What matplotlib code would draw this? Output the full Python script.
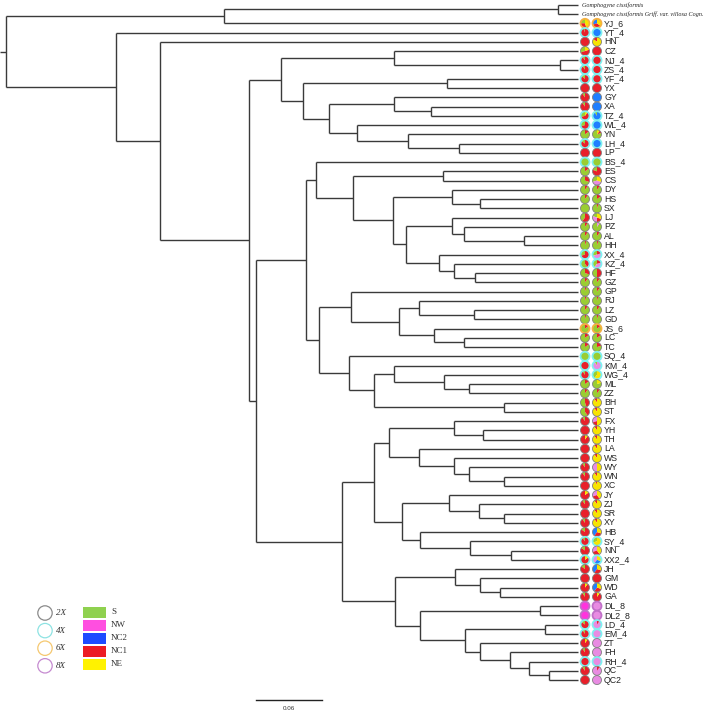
import matplotlib
matplotlib.use("Agg")
import matplotlib.pyplot as plt
from matplotlib import transforms
from matplotlib.patches import Wedge, Circle, Rectangle

# ---- data -----------------------------------------------------------------
# tree (newick, branch lengths in substitutions/site, tips drawn aligned)
E_CLADE = ("((CZ:0,(NJ_4:0,ZS_4:0):0.152):0.103,((YF_4:0,YX:0):0.132,"
           "((GY:0,(XA:0,TZ_4:0):0.034):0.059,(WL_4:0,(YN:0,(LH_4:0,LP:0):0.047):0.046):0.026)"
           ":0.024):0.020)")
S1_CLADE = ("(BS_4:0,((ES:0,CS:0):0.082,((DY:0,(HS:0,SX:0):0.026):0.054,"
            "((LJ:0,(PZ:0,(AL:0,HH:0):0.055):0.011):0.042,"
            "(XX_4:0,(KZ_4:0,(HF:0,GZ:0):0.019):0.014):0.030):0.012):0.036):0.034)")
S2_CLADE = ("((GP:0,((RJ:0,(LZ:0,GD:0):0.050):0.018,(JS_6:0,(LC:0,TC:0):0.027):0.032):0.044):0.029,"
            "(SQ_4:0,((KM_4:0,(WG_4:0,(ML:0,ZZ:0):0.023):0.046):0.018,(BH:0,ST:0):0.119):0.023):0.027)")
N_CLADE = ("((((FX:0,(YH:0,TH:0):0.027):0.059,(LA:0,(WS:0,(WY:0,(WN:0,XC:0):0.032):0.014):0.032):0.027):0.014,"
           "((JY:0,(ZJ:0,(SR:0,XY:0):0.023):0.027):0.043,(HB:0,(SY_4:0,(NN:0,XX2_4:0):0.037):0.046):0.016)"
           ":0.026):0.029,"
           "((JH:0,(GM:0,(WD:0,GA:0):0.018):0.023):0.055,((DL_8:0,DL2_8:0):0.110,"
           "((LD_4:0,EM_4:0):0.073,(ZT:0,(FH:0,(RH_4:0,(QC:0,QC2:0):0.018):0.018):0.027):0.014):0.041)"
           ":0.023):0.048)")
TREE = ("(((OG1:0,OG2:0):0.305,YJ_6:0):0.199,(YT_4:0,(HN:0,(%s:0.029,((%s:0.009,%s:0.012):0.046,%s:0.079):0.006)"
        ":0.081):0.041):0.100);" % (E_CLADE, S1_CLADE, S2_CLADE, N_CLADE))

OUTGROUPS = {"OG1": "Gomphogyne cissiformis",
             "OG2": "Gomphogyne cissiformis Griff. var. villosa Cogn."}

TIPS = ["YJ_6", "YT_4", "HN", "CZ", "NJ_4", "ZS_4", "YF_4", "YX", "GY", "XA", "TZ_4", "WL_4",
        "YN", "LH_4", "LP", "BS_4", "ES", "CS", "DY", "HS", "SX", "LJ", "PZ", "AL", "HH", "XX_4",
        "KZ_4", "HF", "GZ", "GP", "RJ", "LZ", "GD", "JS_6", "LC", "TC", "SQ_4", "KM_4", "WG_4",
        "ML", "ZZ", "BH", "ST", "FX", "YH", "TH", "LA", "WS", "WY", "WN", "XC", "JY", "ZJ", "SR",
        "XY", "HB", "SY_4", "NN", "XX2_4", "JH", "GM", "WD", "GA", "DL_8", "DL2_8", "LD_4",
        "EM_4", "ZT", "FH", "RH_4", "QC", "QC2"]
PLOIDY = [6, 4, 2, 2, 4, 4, 4, 2, 2, 2, 4, 4, 2, 4, 2, 4, 2, 2, 2, 2, 2, 2, 2, 2, 2, 4,
          4, 2, 2, 2, 2, 2, 2, 6, 2, 2, 4, 4, 4, 2, 2, 2, 2, 2, 2, 2, 2, 2, 2, 2, 2, 2, 2, 2,
          2, 2, 4, 2, 4, 2, 2, 2, 2, 8, 8, 4, 4, 2, 2, 4, 2, 2]

GROUPS = ["S", "NW", "NC2", "NC1", "NE"]
# membership (S, NW, NC2, NC1, NE)
LEFT = [(.25, 0, 0, .3, .45), (.05, 0, 0, .95, 0), (0, 0, 0, 1, 0), (.3, 0, 0, .5, .2),
        (.1, 0, 0, .9, 0), (.1, 0, 0, .9, 0), (.15, 0, 0, .85, 0), (0, 0, 0, 1, 0),
        (.1, 0, 0, .9, 0), (.1, 0, 0, .9, 0), (.3, 0, 0, .6, .1), (.3, 0, 0, .7, 0),
        (.85, 0, 0, .15, 0), (.15, 0, 0, .85, 0), (0, 0, 0, 1, 0), (1, 0, 0, 0, 0),
        (.85, 0, 0, .15, 0), (.7, 0, 0, .3, 0), (.9, 0, 0, .1, 0), (.9, 0, 0, .1, 0),
        (1, 0, 0, 0, 0), (.4, 0, 0, .6, 0), (.9, 0, 0, .1, 0), (.9, 0, 0, .1, 0),
        (.95, 0, 0, .05, 0), (.3, 0, 0, .7, 0), (.6, 0, 0, .4, 0), (.7, 0, 0, .3, 0),
        (.9, 0, 0, .1, 0), (.95, 0, 0, .05, 0), (.95, 0, 0, .05, 0), (.9, 0, 0, .1, 0),
        (.95, 0, 0, .05, 0), (.85, 0, 0, .15, 0), (.85, 0, 0, .15, 0), (.85, 0, 0, .15, 0),
        (1, 0, 0, 0, 0), (0, 0, 0, 1, 0), (.1, 0, 0, .9, 0), (.85, 0, 0, .15, 0),
        (.9, 0, 0, .1, 0), (.55, 0, 0, .45, 0), (.6, 0, 0, .4, 0), (.1, 0, 0, .9, 0),
        (0, 0, 0, 1, 0), (0, 0, 0, .9, .1), (0, 0, 0, 1, 0), (0, 0, 0, 1, 0),
        (.1, 0, 0, .9, 0), (.1, 0, 0, .9, 0), (0, 0, 0, 1, 0), (0, 0, 0, .85, .15),
        (.1, 0, 0, .9, 0), (0, 0, 0, 1, 0), (.1, 0, 0, .9, 0), (.15, 0, 0, .85, 0),
        (.1, 0, 0, .9, 0), (.15, 0, 0, .85, 0), (0, 0, 0, .85, .15), (.15, 0, 0, .85, 0),
        (0, 0, 0, 1, 0), (0, 0, 0, .9, .1), (.1, 0, 0, .9, 0), (0, 1, 0, 0, 0),
        (0, 1, 0, 0, 0), (.15, 0, 0, .85, 0), (.1, 0, 0, .9, 0), (0, 0, 0, .9, .1),
        (.1, 0, 0, .9, 0), (0, 0, 0, 1, 0), (.1, 0, 0, .9, 0), (0, 0, 0, 1, 0)]
RIGHT = [(0, 0, .3, .35, .35), (0, 0, 1, 0, 0), (0, 0, 0, .15, .85), (0, 0, 0, 1, 0),
         (0, 0, 0, 1, 0), (0, 0, 0, 1, 0), (0, 0, 0, 1, 0), (0, 0, 0, 1, 0),
         (0, 0, 1, 0, 0), (0, 0, 1, 0, 0), (.1, 0, .9, 0, 0), (0, 0, 1, 0, 0),
         (.8, 0, 0, .1, .1), (0, 0, 1, 0, 0), (0, 0, 0, 1, 0), (1, 0, 0, 0, 0),
         (.2, 0, 0, .8, 0), (.3, .4, 0, 0, .3), (.9, 0, 0, .1, 0), (.85, 0, 0, .15, 0),
         (.95, 0, 0, .05, 0), (.2, .3, 0, .2, .3), (.9, .1, 0, 0, 0), (.9, 0, 0, .1, 0),
         (.95, 0, 0, .05, 0), (.3, .5, 0, .2, 0), (.4, .4, 0, .2, 0), (.5, 0, 0, .5, 0),
         (.9, 0, 0, .1, 0), (.9, 0, 0, .1, 0), (.95, 0, 0, .05, 0), (.9, 0, 0, .1, 0),
         (.95, 0, 0, .05, 0), (.85, 0, 0, .15, 0), (.85, 0, 0, .15, 0), (.8, 0, 0, .2, 0),
         (1, 0, 0, 0, 0), (.1, .9, 0, 0, 0), (.4, 0, 0, 0, .6), (.8, 0, 0, 0, .2),
         (.9, 0, 0, .1, 0), (0, 0, 0, .1, .9), (0, 0, 0, .1, .9), (0, .3, 0, .2, .5),
         (0, 0, 0, .1, .9), (0, 0, 0, .1, .9), (0, 0, 0, .1, .9), (0, 0, 0, .1, .9),
         (0, .5, 0, 0, .5), (0, 0, 0, .1, .9), (0, 0, 0, .05, .95), (0, .3, 0, .3, .4),
         (0, 0, 0, .1, .9), (0, 0, 0, .1, .9), (0, 0, 0, .1, .9), (0, 0, .4, .3, .3),
         (.3, 0, 0, 0, .7), (0, .3, 0, .3, .4), (0, .4, .3, 0, .3), (0, 0, .4, .3, .3),
         (0, 0, 0, 1, 0), (0, 0, .4, .3, .3), (0, 0, 0, .9, .1), (0, 1, 0, 0, 0),
         (0, 1, 0, 0, 0), (0, .9, 0, .1, 0), (0, 1, 0, 0, 0), (0, 1, 0, 0, 0),
         (0, 1, 0, 0, 0), (0, 1, 0, 0, 0), (0, .9, 0, .1, 0), (0, 1, 0, 0, 0)]

SCALE_BAR = 0.06

# ---- styles ---------------------------------------------------------------
GROUP_COLORS = ["#8fd14f", "#ff4fe0", "#1e4bff", "#ec1c24", "#fff200"]
PIE_LEFT_COLORS = ["#9acd32", "#ff33dd", "#1f6fff", "#e8202a", "#f7e400"]
PIE_RIGHT_COLORS = ["#9acd32", "#e88be2", "#1f7fff", "#e8202a", "#f7e400"]
PLOIDY_COLORS = {2: "#808080", 4: "#7ff0f0", 6: "#f5b041", 8: "#c070c8"}
LEGEND_PLOIDY_COLORS = {2: "#8a8a8a", 4: "#8ee3e3", 6: "#f5c870", 8: "#c58ad0"}

PX_PER_UNIT = 1095.0      # horizontal pixels per substitution unit
ROOT_PX = 6.0
TIP_Y0, TIP_DY = 4.8, 9.25


def px2x(px):
    return (px - ROOT_PX) / PX_PER_UNIT


def py2y(py):
    return (py - TIP_Y0) / TIP_DY


# ---- parse tree -----------------------------------------------------------
def parse(s):
    pos = 0

    def node():
        nonlocal pos
        children = []
        if s[pos] == "(":
            pos += 1
            children.append(node())
            while s[pos] == ",":
                pos += 1
                children.append(node())
            pos += 1
        start = pos
        while s[pos] not in ":,);":
            pos += 1
        name = s[start:pos]
        length = 0.0
        if s[pos] == ":":
            pos += 1
            start = pos
            while s[pos] not in ",);":
                pos += 1
            length = float(s[start:pos])
        return {"name": name, "len": length, "children": children}

    return node()


tree = parse(TREE)
leaves = []


def layout(n, depth):
    n["x"] = depth + n["len"]
    if n["children"]:
        for c in n["children"]:
            layout(c, n["x"])
        n["y"] = (n["children"][0]["y"] + n["children"][-1]["y"]) / 2
    else:
        n["y"] = len(leaves)
        leaves.append(n)


layout(tree, 0.0)

# ---- figure ---------------------------------------------------------------
fig = plt.figure(figsize=(7.09, 7.13), dpi=100)
ax = fig.add_axes([0, 0, 1, 1])
ax.set_autoscale_on(False)
ax.set_xlim(px2x(0), px2x(709))
ax.set_ylim(py2y(713), py2y(0))
ax.axis("off")

TIP_END = px2x(578)
LINE_KW = dict(color="#3a3a3a", lw=1.0, solid_capstyle="butt")


def draw(n):
    if not n["children"]:
        return
    ys = [c["y"] for c in n["children"]]
    ax.plot([n["x"], n["x"]], [min(ys), max(ys)], **LINE_KW)
    for c in n["children"]:
        xe = c["x"] if c["children"] else TIP_END
        ax.plot([n["x"], xe], [c["y"], c["y"]], **LINE_KW)
        draw(c)


draw(tree)
ax.plot([px2x(0), 0], [tree["y"], tree["y"]], **LINE_KW)

R_IN = 0.045


def draw_pie(x, y, fracs, palette, edge, lw):
    trans = fig.dpi_scale_trans + transforms.ScaledTranslation(x, y, ax.transData)
    total = sum(fracs)
    start = 90.0
    for f, c in zip(fracs, palette):
        if f <= 0:
            continue
        ang = 360.0 * f / total
        ax.add_patch(Wedge((0, 0), R_IN, start, start + ang, facecolor=c,
                           edgecolor="none", transform=trans))
        start += ang
    ax.add_patch(Circle((0, 0), R_IN, fill=False, edgecolor=edge, lw=lw, transform=trans))


tip_index = {name: i for i, name in enumerate(TIPS)}
for leaf in leaves:
    name = leaf["name"]
    if name in OUTGROUPS:
        ax.text(px2x(582), leaf["y"], OUTGROUPS[name], fontsize=4.4, style="italic",
                family=["Liberation Serif", "DejaVu Serif"], va="center", ha="left",
                color="#222222")
        continue
    i = tip_index[name]
    p = PLOIDY[i]
    lw = 0.6 if p == 2 else 1.3
    draw_pie(px2x(585), leaf["y"], LEFT[i], PIE_LEFT_COLORS, PLOIDY_COLORS[p], lw)
    draw_pie(px2x(597), leaf["y"], RIGHT[i], PIE_RIGHT_COLORS, PLOIDY_COLORS[p], lw)
    ax.text(px2x(604), leaf["y"], name, fontsize=6.3, va="center", ha="left",
            family=["Liberation Sans Narrow", "Liberation Sans", "DejaVu Sans"],
            color="#222222")

# scale bar
sb_x0 = px2x(256)
ax.plot([sb_x0, sb_x0 + SCALE_BAR], [py2y(700), py2y(700)], color="#222222", lw=1.0)
ax.text(sb_x0 + SCALE_BAR / 2, py2y(709), "%g" % SCALE_BAR, fontsize=4.5, ha="center",
        va="center", family=["Liberation Sans Narrow", "Liberation Sans"], color="#333333")

# ---- legend (figure pixel coordinates) ------------------------------------
lax = fig.add_axes([0, 0, 1, 1])
lax.set_xlim(0, 709)
lax.set_ylim(713, 0)
lax.axis("off")
for k, p in enumerate([2, 4, 6, 8]):
    cy = 613 + 17.6 * k
    lax.add_patch(Circle((45, cy), 7.2, fill=False, edgecolor=LEGEND_PLOIDY_COLORS[p], lw=0.9))
    lax.text(56, cy, "%dX" % p, fontsize=6.5, style="italic", va="center", ha="left",
             family=["Liberation Serif", "DejaVu Serif"], color="#333333")
for k, (g, c) in enumerate(zip(GROUPS, GROUP_COLORS)):
    cy = 612 + 13.0 * k
    lax.add_patch(Rectangle((83, cy - 5.5), 23, 11, facecolor=c, edgecolor="none"))
    lax.text(111, cy, g, fontsize=6.5, va="center", ha="left",
             family=["Liberation Serif", "DejaVu Serif"], color="#333333")

fig.savefig("out.png", dpi=100)
